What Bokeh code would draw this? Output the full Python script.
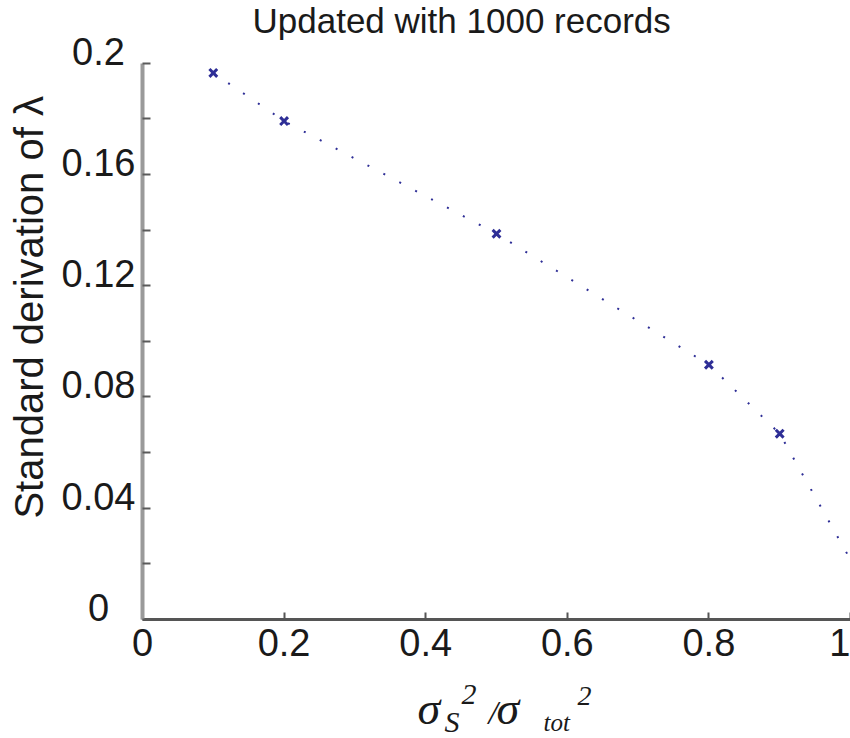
import numpy as np
from bokeh.plotting import figure
from bokeh.models import Range1d, FixedTicker, Label, LinearAxis
from bokeh.embed import file_html
from bokeh.resources import INLINE

# ---- data ----
x_line = [0.1, 0.2, 0.5, 0.8, 0.9, 1.0]
y_line = [0.1965, 0.1792, 0.1387, 0.0916, 0.0668, 0.0215]
marker_idx = [0, 1, 2, 3, 4]
x_ticks = [0, 0.2, 0.4, 0.6, 0.8, 1.0]
x_tick_labels = ["0", "0.2", "0.4", "0.6", "0.8", "1"]
y_ticks = [0, 0.04, 0.08, 0.12, 0.16, 0.2]
y_tick_labels = ["0", "0.04", "0.08", "0.12", "0.16", "0.2"]
y_minor_ticks = [0.02, 0.06, 0.10, 0.14, 0.18]
title_text = "Updated with 1000 records"
ylabel_text = "Standard derivation of \u03bb"

# ---- layout (pixels) ----
W, H = 850, 738
ORIGIN_X, ORIGIN_Y = 142, 619      # pixel of data (0, 0)
PX_PER_X = 708.0
PX_PER_Y = (619 - 62.7) / 0.2

BLUE = "#2e2e96"
TXT = "#1a1a1a"
SANS = "Liberation Sans"
SERIF = "Liberation Serif"

p = figure(width=W, height=H, title=None,
           x_range=Range1d(-ORIGIN_X / PX_PER_X, (W - ORIGIN_X) / PX_PER_X),
           y_range=Range1d(-(H - ORIGIN_Y) / PX_PER_Y, ORIGIN_Y / PX_PER_Y),
           min_border=0, x_axis_location=None, y_axis_location=None,
           toolbar_location=None, output_backend="svg")
p.outline_line_color = None
p.grid.visible = False
p.background_fill_color = "white"
p.border_fill_color = "white"

# x axis (fixed at y=0)
xaxis = LinearAxis(fixed_location=0, bounds=(0, 1),
                   ticker=FixedTicker(ticks=x_ticks, minor_ticks=[]))
xaxis.major_label_overrides = {t: l for t, l in zip(x_ticks, x_tick_labels)}
xaxis.axis_line_color = "#555555"
xaxis.axis_line_width = 3
xaxis.major_tick_in = 7
xaxis.major_tick_out = 0
xaxis.major_tick_line_color = "#555555"
xaxis.major_tick_line_width = 2
xaxis.minor_tick_line_color = None
xaxis.major_label_text_font = SANS
xaxis.major_label_text_font_size = "38px"
xaxis.major_label_text_color = TXT
xaxis.major_label_standoff = 9
p.add_layout(xaxis, "below")

# y axis (fixed at x=0)
yaxis = LinearAxis(fixed_location=0, bounds=(0, 0.2),
                   ticker=FixedTicker(ticks=y_ticks, minor_ticks=y_minor_ticks))
yaxis.major_label_overrides = {t: "" for t in y_ticks}
yaxis.major_label_text_font_size = "0px"
yaxis.axis_line_color = "#9a9a9a"
yaxis.axis_line_width = 4
yaxis.major_tick_in = 8
yaxis.major_tick_out = 0
yaxis.minor_tick_in = 8
yaxis.minor_tick_out = 0
yaxis.major_tick_line_color = "#5a5a5a"
yaxis.minor_tick_line_color = "#5a5a5a"
yaxis.major_tick_line_width = 2
yaxis.minor_tick_line_width = 2
p.add_layout(yaxis, "left")

# y tick labels (centered, MATLAB style)
for t, l in zip(y_ticks, y_tick_labels):
    p.add_layout(Label(x=0, y=t, text=l, x_offset=-44, y_offset=12,
                       text_align="center", text_baseline="middle",
                       text_font=SANS, text_font_size="38px", text_color=TXT))

# data
p.line(x_line, y_line, line_color=BLUE, line_width=2, line_dash="2 16")
p.scatter([x_line[i] for i in marker_idx], [y_line[i] for i in marker_idx],
          marker="x", size=11, line_width=3, line_color=BLUE)

# title
p.add_layout(Label(x=0, y=0.2, text=title_text, x_offset=110, y_offset=43,
                   text_align="left", text_baseline="alphabetic",
                   text_font=SANS, text_font_size="35px", text_color=TXT))

# y axis label
p.add_layout(Label(x=0, y=0.1, text=ylabel_text, angle=np.pi / 2,
                   x_offset=-114, y_offset=34,
                   text_align="center", text_baseline="alphabetic",
                   text_font=SANS, text_font_size="40px", text_color=TXT))

# x axis label: sigma_S^2 / sigma_tot^2  (offsets from data origin, px)
xlabel_parts = [
    ("\u03c3", 275, -89, "46px"),
    ("S", 302, -102, "30px"),
    ("2", 319, -75, "30px"),
    ("/", 346, -93, "34px"),
    ("\u03c3", 354, -89, "46px"),
    ("tot", 401, -103, "25px"),
    ("2", 435, -76, "28px"),
]
for txt, dx, dy, fs in xlabel_parts:
    p.add_layout(Label(x=0, y=0, text=txt, x_offset=dx, y_offset=dy,
                       text_align="left", text_baseline="alphabetic",
                       text_font=SERIF, text_font_style="italic",
                       text_font_size=fs, text_color=TXT))

open("out.html", "w").write(file_html(p, INLINE))
